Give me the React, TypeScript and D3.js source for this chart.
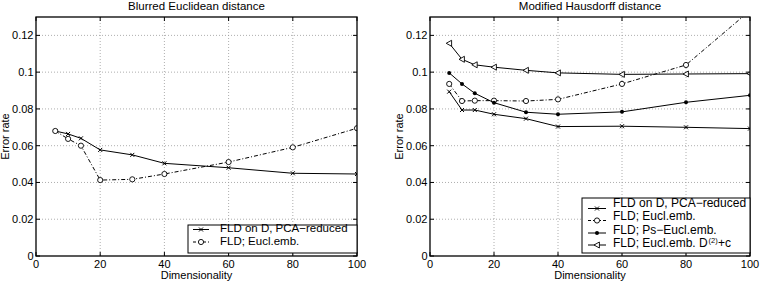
import React from "react";
import * as d3 from "d3";

const dims = [6, 10, 14, 20, 30, 40, 60, 80, 100];
const leftPca = [0.068, 0.0664, 0.064, 0.0577, 0.055, 0.0504, 0.048, 0.045, 0.0446];
const leftEucl = [0.068, 0.0637, 0.06, 0.0413, 0.0417, 0.0446, 0.0511, 0.0591, 0.0695];
const rightPca = [0.0894, 0.0794, 0.0794, 0.0771, 0.0747, 0.0704, 0.0706, 0.07, 0.0693];
const rightEucl = [0.0936, 0.0843, 0.0845, 0.0845, 0.0843, 0.0852, 0.0936, 0.1039, 0.1335];
const rightPs = [0.0996, 0.0936, 0.0885, 0.0834, 0.0782, 0.0771, 0.0784, 0.0836, 0.0874];
const rightTri = [0.1157, 0.107, 0.104, 0.1027, 0.101, 0.0996, 0.0988, 0.099, 0.0992];
const xTicks = [0, 20, 40, 60, 80, 100];
const yTicks = [0, 0.02, 0.04, 0.06, 0.08, 0.1, 0.12];
const yTickLabels = ["0", "0.02", "0.04", "0.06", "0.08", "0.1", "0.12"];

const FONT = "'Liberation Sans', Arial, Helvetica, sans-serif";

type Kind = "x" | "o" | "dot" | "tri";
interface Series { values: number[]; kind: Kind; dash?: string; label: string }

function Marker({ kind, x, y }: { kind: Kind; x: number; y: number }) {
  if (kind === "x") {
    const s = 2;
    return <path d={`M${x - s},${y - s}L${x + s},${y + s}M${x - s},${y + s}L${x + s},${y - s}`} stroke="#000" strokeWidth={1} />;
  }
  if (kind === "o") return <circle cx={x} cy={y} r={2.6} fill="white" stroke="#000" strokeWidth={0.9} />;
  if (kind === "dot") return <circle cx={x} cy={y} r={2} fill="#000" />;
  const s = 3;
  return <path d={`M${x - s},${y}L${x + s * 0.8},${y - s}L${x + s * 0.8},${y + s}Z`} fill="white" stroke="#000" strokeWidth={0.9} />;
}

interface Legend { left: number; top: number; bottom: number; baselines: number[]; lineYs: number[]; lineX0: number; lineX1: number; textX: number; fontSize: number }

function Panel({ id, x0, x1, title, series, legend }: {
  id: string; x0: number; x1: number; title: string; series: Series[]; legend: Legend;
}) {
  const top = 17, bottom = 256;
  const xs = d3.scaleLinear().domain([0, 100]).range([x0, x1]);
  const ys = d3.scaleLinear().domain([0, 0.13]).range([bottom, top]);
  const line = d3.line<number>().x((_, i) => xs(dims[i])).y((v) => ys(v));
  return (
    <g>
      <defs>
        <clipPath id={id}><rect x={x0} y={top} width={x1 - x0} height={bottom - top} /></clipPath>
      </defs>
      <rect x={x0} y={top} width={x1 - x0} height={bottom - top} fill="white" />
      {xTicks.map((t) => (
        <g key={"gx" + t}>
          {t > 0 && t < 100 && <line x1={xs(t)} x2={xs(t)} y1={top} y2={bottom} stroke="#999" strokeWidth={0.8} strokeDasharray="1,2" />}
          <line x1={xs(t)} x2={xs(t)} y1={bottom} y2={bottom - 4} stroke="#000" />
          <line x1={xs(t)} x2={xs(t)} y1={top} y2={top + 4} stroke="#000" />
          <text x={xs(t)} y={268} textAnchor="middle" fontSize={11} fontFamily={FONT}>{t}</text>
        </g>
      ))}
      {yTicks.map((t, i) => (
        <g key={"gy" + t}>
          {t > 0 && <line x1={x0} x2={x1} y1={ys(t)} y2={ys(t)} stroke="#999" strokeWidth={0.8} strokeDasharray="1,2" />}
          <line x1={x0} x2={x0 + 4} y1={ys(t)} y2={ys(t)} stroke="#000" />
          <line x1={x1} x2={x1 - 4} y1={ys(t)} y2={ys(t)} stroke="#000" />
          <text x={x0 - 2.5} y={ys(t) + 4} textAnchor="end" fontSize={11} fontFamily={FONT}>{yTickLabels[i]}</text>
        </g>
      ))}
      <g clipPath={`url(#${id})`}>
        {series.map((s, k) => (
          <g key={k}>
            <path d={line(s.values) || ""} fill="none" stroke="#000" strokeWidth={1} strokeDasharray={s.dash} />
            {s.values.map((v, i) => (
              <Marker key={i} kind={s.kind} x={xs(dims[i])} y={ys(v)} />
            ))}
          </g>
        ))}
      </g>
      <rect x={x0} y={top} width={x1 - x0} height={bottom - top} fill="none" stroke="#000" strokeWidth={1.3} />
      <text x={(x0 + x1) / 2} y={9.5} textAnchor="middle" fontSize={11.5} fontFamily={FONT}>{title}</text>
      <text x={(x0 + x1) / 2} y={279} textAnchor="middle" fontSize={11} fontFamily={FONT}>Dimensionality</text>
      <text transform={`translate(${x0 - 27},${(top + bottom) / 2}) rotate(-90)`} textAnchor="middle" fontSize={11} fontFamily={FONT}>Error rate</text>
      <rect x={legend.left} y={legend.top} width={x1 - legend.left} height={legend.bottom - legend.top} fill="white" stroke="#000" strokeWidth={1} />
      {series.map((s, k) => {
        const y = legend.lineYs[k];
        const mx = (legend.lineX0 + legend.lineX1) / 2;
        return (
          <g key={"lg" + k}>
            <line x1={legend.lineX0} x2={legend.lineX1} y1={y} y2={y} stroke="#000" strokeWidth={1} strokeDasharray={s.dash ? "3,2" : undefined} />
            <Marker kind={s.kind} x={mx} y={y} />
            {s.label === "EUCL_D2" ? (
              <g>
                <text x={legend.textX} y={legend.baselines[k]} fontSize={legend.fontSize} fontFamily={FONT}>FLD; Eucl.emb. D</text>
                <text x={legend.textX + 95.5} y={legend.baselines[k] - 4.5} fontSize={7.5} fontFamily={FONT}>(2)</text>
                <text x={legend.textX + 105} y={legend.baselines[k]} fontSize={legend.fontSize} fontFamily={FONT}>+c</text>
              </g>
            ) : (
              <text x={legend.textX} y={legend.baselines[k]} fontSize={legend.fontSize} fontFamily={FONT}>{s.label}</text>
            )}
          </g>
        );
      })}
    </g>
  );
}

export default function App() {
  const dashDot = "4,2,1,2";
  return (
    <svg width={762} height={284} style={{ position: "absolute", left: 0, top: 0, background: "white" }}>
      <rect width={762} height={284} fill="white" />
      <Panel id="clipL" x0={36} x1={357} title="Blurred Euclidean distance"
        series={[
          { values: leftPca, kind: "x", label: "FLD on D, PCA\u2212reduced" },
          { values: leftEucl, kind: "o", dash: dashDot, label: "FLD; Eucl.emb." },
        ]}
        legend={{ left: 188, top: 225, bottom: 253, baselines: [232, 245], lineYs: [229.5, 242], lineX0: 193, lineX1: 209, textX: 220, fontSize: 11.5 }} />
      <Panel id="clipR" x0={430} x1={750} title="Modified Hausdorff distance"
        series={[
          { values: rightPca, kind: "x", label: "FLD on D, PCA\u2212reduced" },
          { values: rightEucl, kind: "o", dash: dashDot, label: "FLD; Eucl.emb." },
          { values: rightPs, kind: "dot", label: "FLD; Ps\u2212Eucl.emb." },
          { values: rightTri, kind: "tri", label: "EUCL_D2" },
        ]}
        legend={{ left: 582, top: 198, bottom: 253, baselines: [206.5, 220, 233.5, 247], lineYs: [208.5, 220.5, 233, 245], lineX0: 588, lineX1: 606, textX: 613, fontSize: 12 }} />
    </svg>
  );
}
